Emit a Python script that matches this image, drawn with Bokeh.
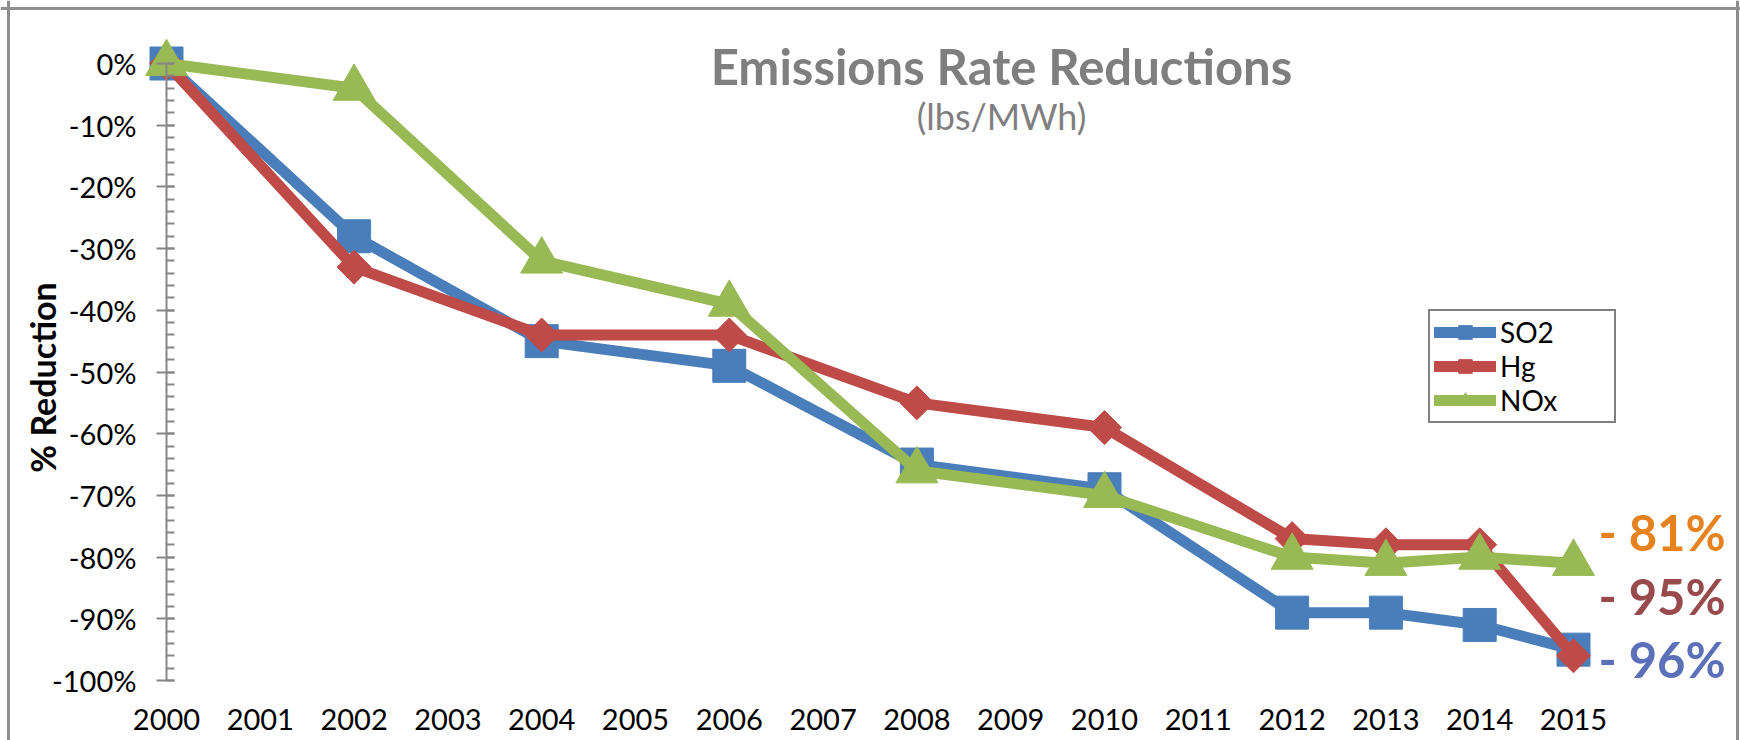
from bokeh.plotting import figure
from bokeh.models import (Range1d, FixedTicker, PrintfTickFormatter, Legend,
                          LegendItem, Label, Span)
from bokeh.embed import file_html
from bokeh.resources import INLINE
import math

# ---------------- data ----------------
years = [str(y) for y in range(2000, 2016)]          # category labels
data_years = ["2000", "2002", "2004", "2006", "2008", "2010",
              "2012", "2013", "2014", "2015"]
so2 = [0, -28, -45, -49, -65, -69, -89, -89, -91, -95]
hg = [0, -33, -44, -44, -55, -59, -77, -78, -78, -96]
nox = [0, -4, -32, -39, -66, -70, -80, -81, -80, -81]
y_ticks = list(range(0, -101, -10))
y_minor = list(range(0, -101, -2))
end_labels = ["- 81%", "- 95%", "- 96%"]

xi = [years.index(y) for y in data_years]

# ---------------- figure (frame covers whole canvas) ----------------
W, H = 1740, 740
X0_PX, X15_PX = 166.0, 1573.0       # category 2000 / 2015
Y0_PX, Y100_PX = 63.0, 680.0        # 0% / -100%
u = (X15_PX - X0_PX) / 15.0
v = (Y100_PX - Y0_PX) / 100.0
x_start = -X0_PX / u
x_end = 15 + (W - X15_PX) / u
y_end = Y0_PX / v
y_start = -100 - (H - Y100_PX) / v

p = figure(width=W, height=H, output_backend="svg", toolbar_location=None,
           x_range=Range1d(x_start, x_end), y_range=Range1d(y_start, y_end),
           min_border_left=0, min_border_right=0, min_border_top=0,
           min_border_bottom=0)
p.background_fill_color = "white"
p.border_fill_color = "white"
p.outline_line_color = None
p.xgrid.visible = False
p.ygrid.visible = False

FONT = "Lato"
AX = "#868686"

# y axis
ya = p.yaxis[0]
ya.fixed_location = 0
ya.bounds = (-100, 0)
ya.ticker = FixedTicker(ticks=y_ticks, minor_ticks=y_minor)
ya.formatter = PrintfTickFormatter(format="%d%%")
ya.axis_line_color = AX
ya.axis_line_width = 2
ya.major_tick_line_color = AX
ya.major_tick_line_width = 2
ya.major_tick_out = 10
ya.major_tick_in = 8
ya.minor_tick_line_color = AX
ya.minor_tick_line_width = 2
ya.minor_tick_in = 8
ya.minor_tick_out = 0
ya.major_label_text_font = FONT
ya.major_label_text_font_size = "29px"
ya.major_label_text_color = "black"
ya.major_label_standoff = 20

# x axis
xa = p.xaxis[0]
xa.fixed_location = -100
xa.ticker = FixedTicker(ticks=list(range(len(years))), minor_ticks=[])
xa.major_label_overrides = {i: y for i, y in enumerate(years)}
xa.axis_line_color = None
xa.major_tick_line_color = None
xa.minor_tick_line_color = None
xa.major_tick_out = 0
xa.major_label_standoff = 28
xa.major_label_text_font = FONT
xa.major_label_text_font_size = "29px"
xa.major_label_text_color = "black"

# y axis title
p.add_layout(Label(x=42, y=H - 377, x_units="screen", y_units="screen",
                   angle=math.pi / 2, text="% Reduction", text_font=FONT,
                   text_font_style="bold", text_font_size="34px",
                   text_color="black", text_align="center",
                   text_baseline="middle"))

# ---------------- series ----------------
series = [
    ("SO2", so2, "#4A7EBB", "square", 33, 0.0),
    ("Hg", hg, "#BE4B48", "square", 24, math.pi / 4),
    ("NOx", nox, "#98B954", "triangle", 42, 0.0),
]
items = []
for name, vals, col, mk, sz, ang in series:
    ln = p.line(xi, vals, line_color=col, line_width=11, line_join="round",
                line_cap="round")
    sc = p.scatter(xi, vals, marker=mk, size=sz, angle=ang,
                   fill_color=col, line_color=col)
    items.append(LegendItem(label=name, renderers=[ln, sc]))

legend = Legend(items=items, location=(1428, H - 423), orientation="vertical",
                label_text_font=FONT, label_text_font_size="28px",
                label_text_color="black", glyph_width=62, glyph_height=34,
                label_standoff=4, label_width=110, padding=4, spacing=0,
                border_line_color="black", border_line_width=2,
                background_fill_color="white", background_fill_alpha=1.0,
                margin=0)
p.add_layout(legend, "center")

# ---------------- title ----------------
p.add_layout(Label(x=1001, y=H - 65, x_units="screen", y_units="screen",
                   text="Emissions Rate Reductions", text_font=FONT,
                   text_font_style="bold", text_font_size="49px",
                   text_color="#7F7F7F", text_align="center",
                   text_baseline="middle"))
p.add_layout(Label(x=1001, y=H - 115, x_units="screen", y_units="screen",
                   text="(lbs/MWh)", text_font=FONT,
                   text_font_size="36px", text_color="#7F7F7F",
                   text_align="center", text_baseline="middle"))

# ---------------- end annotations ----------------
end_cols = ["#E6821F", "#984A4D", "#5B70B8"]
end_mid_px = [531, 595, 658]
last = years.index("2015")
for t, c, yy in zip(end_labels, end_cols, end_mid_px):
    p.add_layout(Label(x=last, y=H - yy, x_units="data", y_units="screen",
                       x_offset=25, text=t, text_font=FONT,
                       text_font_style="bold", text_font_size="49px",
                       text_color=c, text_align="left",
                       text_baseline="middle"))

# ---------------- outer chart-area border ----------------
BORDER = "#8E8E8E"
p.add_layout(Span(location=x_start + 8 / u, dimension="height",
                  line_color=BORDER, line_width=3))
p.add_layout(Span(location=x_start + 1737 / u, dimension="height",
                  line_color=BORDER, line_width=3))
p.add_layout(Span(location=y_end - 8 / v, dimension="width",
                  line_color=BORDER, line_width=3))

open("out.html", "w").write(file_html(p, INLINE))
